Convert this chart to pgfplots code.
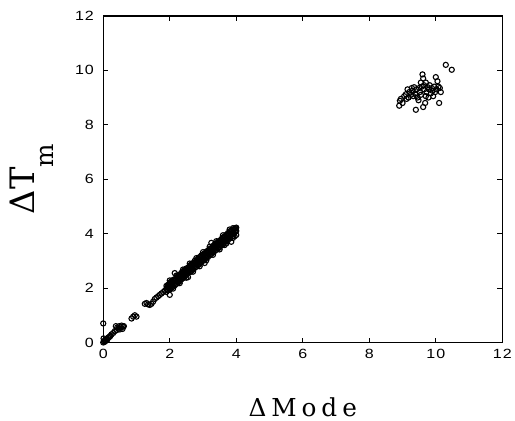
\documentclass[border=0pt]{standalone}
\usepackage{fontspec}
\usepackage{graphicx}
\usepackage{pgfplots}
\pgfplotsset{compat=1.18}
\newfontfamily\tickfont[LetterSpace=6]{Liberation Sans}
\newfontfamily\xlabfont[LetterSpace=20]{DejaVu Serif}
\newfontfamily\ylabfont{DejaVu Serif}

\begin{document}
\begin{tikzpicture}
\begin{axis}[
  name=ax,
  scale only axis, width=402bp, height=329bp,
  xmin=0, xmax=12, ymin=0, ymax=12,
  xtick={0,2,...,12}, ytick={0,2,...,12},
  tick align=inside, major tick length=5bp,
  axis line style={line width=1.3bp},
  every tick/.style={black, line width=1bp},
  /pgf/number format/assume math mode=true,
  tick label style={font=\tickfont\fontsize{13.5}{15}\selectfont},
  xticklabel={\scalebox{1.2}[1]{\pgfmathprintnumber{\tick}}},
  yticklabel={\scalebox{1.2}[1]{\pgfmathprintnumber{\tick}}},
  xticklabel style={yshift=-3bp},
  yticklabel style={xshift=-6bp},
  xlabel={ΔMode},
  xlabel style={at={(axis description cs:0.5,-0.226)}, anchor=base, inner sep=0pt,
    font=\xlabfont\fontsize{25}{28}\selectfont},
  ylabel={ΔT\raisebox{-19bp}{\fontsize{25}{27}\selectfont m}},
  ylabel style={at={(axis description cs:-0.234,0.5)}, anchor=north, inner sep=0pt,
    font=\ylabfont\fontsize{34}{36}\selectfont},
]
% main band
\addplot[only marks, mark=o, mark size=2.6bp, mark options={line width=1.1bp}] table {
x y
0.00 0.00
0.02 0.05
0.03 0.02
0.05 0.08
0.06 0.04
0.08 0.10
0.10 0.12
0.12 0.10
0.15 0.18
0.18 0.20
0.20 0.22
0.22 0.25
0.25 0.30
0.30 0.35
0.35 0.42
0.38 0.60
0.40 0.45
0.42 0.55
0.45 0.50
0.48 0.60
0.50 0.48
0.52 0.55
0.55 0.62
0.58 0.50
0.60 0.58
0.62 0.60
0.00 0.70
0.01 0.15
0.85 0.88
0.90 0.95
0.95 1.00
1.00 0.95
1.25 1.42
1.30 1.45
1.35 1.40
1.40 1.38
1.45 1.42
1.50 1.50
1.55 1.60
1.60 1.65
1.65 1.70
1.70 1.75
1.75 1.80
1.80 1.85
1.85 1.90
1.90 1.86
1.90 1.98
1.90 2.08
1.95 1.92
1.95 2.05
1.95 2.12
2.00 1.75
2.00 1.95
2.00 2.10
2.00 2.20
2.05 2.00
2.05 2.15
2.05 2.25
2.10 2.05
2.10 2.20
2.10 2.30
2.15 2.10
2.15 2.26
2.15 2.55
2.20 2.15
2.20 2.30
2.20 2.40
2.25 2.20
2.25 2.35
2.25 2.45
2.30 2.25
2.30 2.40
2.30 2.50
2.35 2.32
2.35 2.45
2.35 2.56
2.40 2.36
2.40 2.50
2.40 2.62
2.45 2.42
2.45 2.56
2.45 2.66
2.50 2.48
2.50 2.62
2.50 2.72
2.55 2.40
2.55 2.66
2.55 2.75
2.60 2.58
2.60 2.72
2.60 2.82
2.65 2.62
2.65 2.76
2.65 2.88
2.70 2.68
2.70 2.82
2.70 2.92
2.75 2.74
2.75 2.86
2.75 3.00
2.80 2.78
2.80 2.92
2.80 3.02
2.85 2.84
2.85 2.98
2.85 3.08
2.90 2.88
2.90 3.02
2.90 3.14
2.95 2.94
2.95 3.06
2.95 3.20
3.00 3.00
3.00 3.12
3.00 3.24
3.05 2.92
3.05 3.18
3.05 3.28
3.10 3.10
3.10 3.22
3.10 3.34
3.15 3.14
3.15 3.28
3.15 3.38
3.20 3.20
3.20 3.34
3.20 3.44
3.25 3.25
3.25 3.38
3.25 3.66
3.30 3.30
3.30 3.44
3.30 3.55
3.35 3.36
3.35 3.48
3.35 3.60
3.40 3.40
3.40 3.54
3.40 3.64
3.45 3.45
3.45 3.58
3.45 3.70
3.50 3.50
3.50 3.64
3.50 3.74
3.55 3.56
3.55 3.70
3.55 3.80
3.60 3.60
3.60 3.74
3.60 3.86
3.65 3.58
3.65 3.80
3.65 3.90
3.70 3.72
3.70 3.84
3.70 3.96
3.75 3.76
3.75 3.90
3.75 4.02
3.80 3.82
3.80 3.96
3.80 4.08
3.85 3.70
3.85 4.00
3.85 4.12
3.90 3.92
3.90 4.05
3.90 4.20
3.95 3.90
3.95 4.08
3.95 4.18
4.00 3.95
4.00 4.10
4.00 4.22
1.925 1.94
1.925 2.06
1.975 2.00
1.975 2.12
2.025 2.04
2.025 2.16
2.075 2.10
2.075 2.22
2.125 2.15
2.125 2.27
2.175 2.20
2.175 2.32
2.225 2.25
2.225 2.38
2.275 2.30
2.275 2.42
2.325 2.36
2.325 2.48
2.375 2.40
2.375 2.53
2.425 2.46
2.425 2.58
2.475 2.52
2.475 2.63
2.525 2.56
2.525 2.68
2.575 2.62
2.575 2.74
2.625 2.67
2.625 2.79
2.675 2.72
2.675 2.84
2.725 2.78
2.725 2.90
2.775 2.82
2.775 2.95
2.825 2.88
2.825 3.00
2.875 2.93
2.875 3.05
2.925 2.98
2.925 3.10
2.975 3.04
2.975 3.16
3.025 3.08
3.025 3.20
3.075 3.14
3.075 3.26
3.125 3.19
3.125 3.31
3.175 3.24
3.175 3.36
3.225 3.30
3.225 3.42
3.275 3.34
3.275 3.47
3.325 3.40
3.325 3.52
3.375 3.45
3.375 3.57
3.425 3.50
3.425 3.62
3.475 3.56
3.475 3.68
3.525 3.60
3.525 3.73
3.575 3.66
3.575 3.78
3.625 3.71
3.625 3.83
3.675 3.76
3.675 3.88
3.725 3.82
3.725 3.94
3.775 3.86
3.775 3.99
3.825 3.92
3.825 4.04
3.875 3.97
3.875 4.09
3.925 4.02
3.925 4.14
3.975 4.07
3.975 4.20
2.00 2.28
2.10 1.98
2.20 2.46
2.30 2.18
2.40 2.68
2.50 2.38
2.60 2.90
2.70 2.60
2.80 3.10
2.90 2.80
3.00 3.32
3.10 3.02
3.20 3.52
3.30 3.22
3.40 3.72
3.50 3.42
3.60 3.94
3.70 3.64
3.80 4.15
3.90 3.84
};
% upper cluster
\addplot[only marks, mark=o, mark size=2.6bp, mark options={line width=1.1bp}] table {
x y
8.90 8.70
8.92 8.88
8.95 8.95
9.00 8.80
9.05 9.05
9.10 9.12
9.12 8.95
9.15 9.30
9.18 9.00
9.20 9.20
9.25 9.10
9.28 9.35
9.30 9.25
9.32 9.05
9.35 9.38
9.38 9.15
9.40 8.55
9.40 9.10
9.42 9.30
9.45 9.00
9.48 8.90
9.50 9.35
9.52 9.20
9.55 9.10
9.55 9.55
9.58 9.40
9.60 9.85
9.62 9.70
9.62 8.65
9.65 9.30
9.65 9.45
9.68 8.80
9.70 9.05
9.70 9.55
9.72 9.20
9.75 9.38
9.78 9.00
9.80 9.30
9.82 9.45
9.85 9.15
9.88 9.35
9.90 9.25
9.92 9.05
9.95 9.40
9.98 9.20
10.00 9.75
10.02 9.30
10.05 9.60
10.08 9.40
10.10 8.80
10.12 9.35
10.15 9.20
10.30 10.20
10.48 10.02
};
\end{axis}
\path ([xshift=-104bp,yshift=16bp]ax.north west) -- ([xshift=9bp,yshift=-79bp]ax.south east);
\end{tikzpicture}
\end{document}
